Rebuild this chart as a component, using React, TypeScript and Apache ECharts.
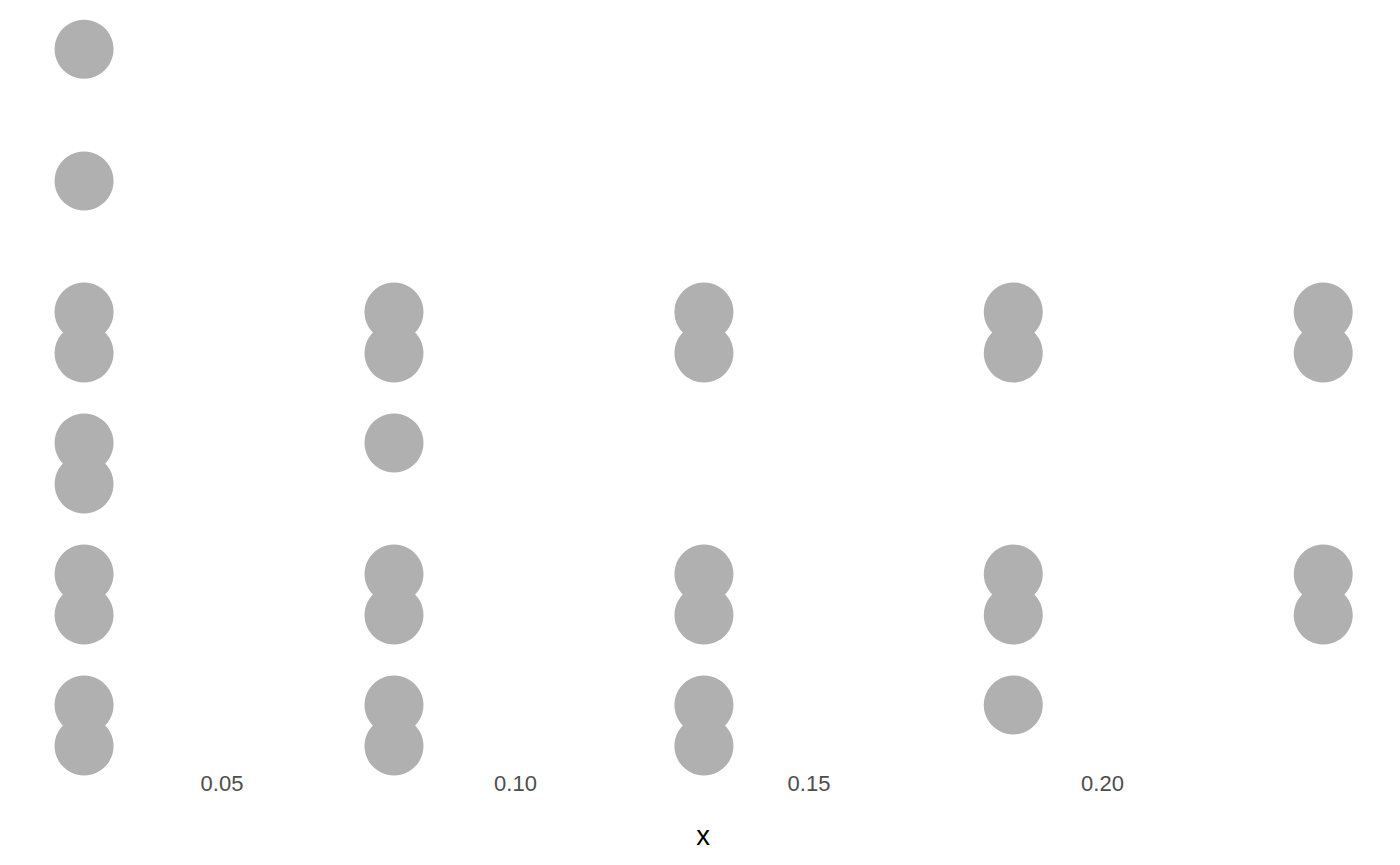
import React, { useEffect, useRef } from "react";
import * as echarts from "echarts";

// Column x positions (bin centres)
const binCentres: number[] = [0.0265, 0.0793, 0.1321, 0.1848, 0.2376];

// Stack heights (in dot-diameter units) of the dots in each column
const col1: number[] = [0, 0.695, 2.22, 2.915, 4.44, 5.136, 6.66, 7.356, 9.576, 11.81];
const col2: number[] = [0, 0.695, 2.22, 2.915, 5.136, 6.66, 7.356];
const col3: number[] = [0, 0.695, 2.22, 2.915, 6.66, 7.356];
const col4: number[] = [0.695, 2.22, 2.915, 6.66, 7.356];
const col5: number[] = [2.22, 2.915, 6.66, 7.356];

const columns: number[][] = [col1, col2, col3, col4, col5];

const tickValues: number[] = [0.05, 0.1, 0.15, 0.2];
const tickLabels: string[] = ["0.05", "0.10", "0.15", "0.20"];

export default function App() {
  const ref = useRef<HTMLDivElement>(null);
  useEffect(() => {
    if (!ref.current) return;
    const chart = echarts.init(ref.current, null, { renderer: "svg" });
    const data: number[][] = [];
    columns.forEach((col, i) => {
      col.forEach((y) => data.push([binCentres[i], y]));
    });
    const pxPerUnit = 5870; // pixels per x unit
    const x005 = 222;
    const xmin = 0.05 - x005 / pxPerUnit;
    const xmax = 0.05 + (1400 - x005) / pxPerUnit;
    chart.setOption({
      animation: false,
      backgroundColor: "#ffffff",
      grid: { left: 0, right: 0, top: 0, height: 770 },
      xAxis: {
        type: "value",
        min: xmin,
        max: xmax,
        name: "x",
        nameLocation: "middle",
        nameGap: 51,
        nameTextStyle: {
          fontFamily: "Liberation Sans",
          fontSize: 27.5,
          color: "#000000",
          padding: [0, 0, 0, 6],
        },
        axisLine: { show: false },
        axisTick: { show: false },
        splitLine: { show: false },
        axisLabel: {
          customValues: tickValues,
          formatter: (v: number) => {
            const idx = tickValues.findIndex((t) => Math.abs(t - v) < 1e-9);
            return idx >= 0 ? tickLabels[idx] : "";
          },
          fontFamily: "Liberation Sans",
          fontSize: 22,
          color: "#4D4D4D",
          margin: 2,
        },
      },
      yAxis: {
        type: "value",
        min: -24 / 59,
        max: 746 / 59,
        show: false,
      },
      series: [
        {
          type: "scatter",
          symbol: "circle",
          symbolSize: 59,
          itemStyle: { color: "#B0B0B0", opacity: 1 },
          data,
        },
      ],
    });
    return () => chart.dispose();
  }, []);
  return (
    <div
      ref={ref}
      style={{ position: "fixed", left: 0, top: 0, width: 1400, height: 865, background: "#fff" }}
    />
  );
}
